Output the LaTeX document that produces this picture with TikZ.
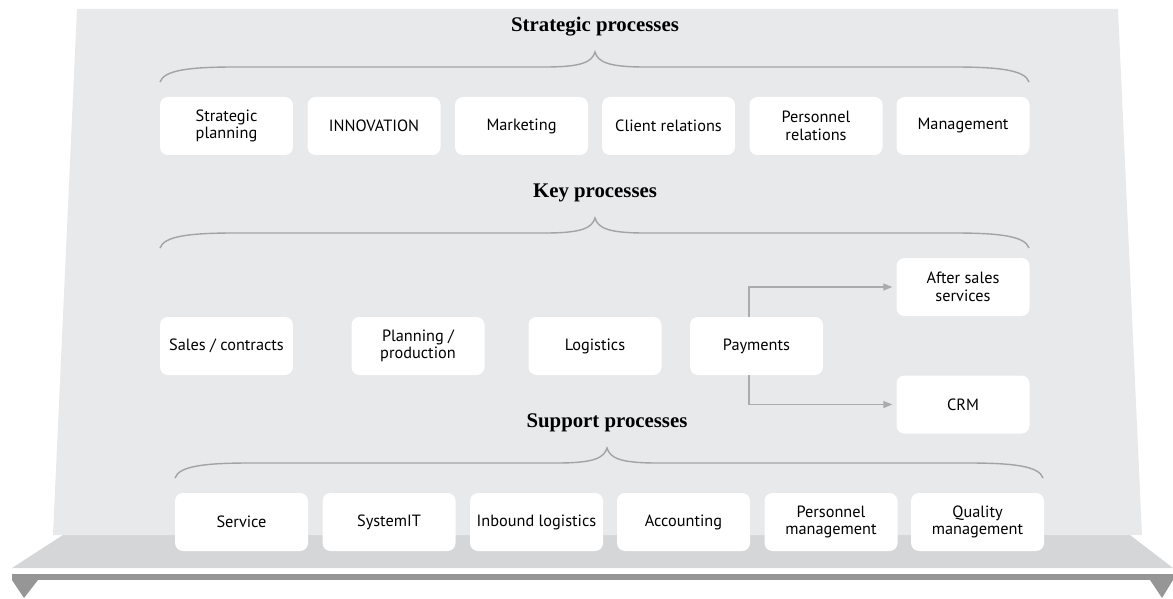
\documentclass[tikz,border=0pt]{standalone}
\usepackage{fontspec}
\setmainfont{Liberation Serif}
\newfontfamily\boxfont{PT Sans}
\usetikzlibrary{arrows.meta}
\definecolor{panel}{HTML}{E8E9EB}
\definecolor{platform}{HTML}{D5D6D8}
\definecolor{barcol}{HTML}{969696}
\definecolor{bracecol}{HTML}{A3A3A3}
\definecolor{arrowcol}{HTML}{ABABAB}
\tikzset{
  pbox/.style={fill=white, rounded corners=8pt, minimum width=133pt, minimum height=58pt,
    inner sep=0pt, align=center, font=\boxfont\fontsize{16.3}{17.5}\selectfont, text=black},
  ptitle/.style={font=\bfseries\fontsize{20.8}{24}\selectfont, text=black},
  bracepath/.style={draw=bracecol, line width=1.4pt},
  flowarrow/.style={draw=arrowcol, line width=1.4pt, -{Triangle[length=9pt,width=7pt]}},
}
\begin{document}
\begin{tikzpicture}[x=1pt,y=-1pt]
\useasboundingbox (0,0) rectangle (1173,599);
% platform
\fill[platform] (63,535) -- (1130,535) -- (1173,568) -- (12,568) -- cycle;
% bottom bar with end triangles
\fill[barcol] (12,574) -- (1173,574) -- (1173,580) -- (12,580) -- cycle;
\fill[barcol] (12,580) -- (38,580) -- (24,598) -- cycle;
\fill[barcol] (1150,580) -- (1173,580) -- (1162,598) -- cycle;
% panel
\fill[panel] (77,9) -- (1118,9) -- (1142,535) -- (53,535) -- cycle;

% titles
\node[ptitle] (tstrat) at (595,27) {Strategic processes};
\node[ptitle] (tkey) at (595,193) {Key processes};
\node[ptitle] (tsupp) at (607,423) {Support processes};

% braces
\draw[bracepath] (160,82) .. controls (164,70) and (190,67) .. (235,67) -- (545,67)
  .. controls (582,67) and (592,62) .. (595,52)
  .. controls (598,62) and (608,67) .. (645,67) -- (954,67)
  .. controls (999,67) and (1025,70) .. (1029,82);
\draw[bracepath] (160,248) .. controls (164,236) and (190,233) .. (235,233) -- (545,233)
  .. controls (582,233) and (592,228) .. (595,218)
  .. controls (598,228) and (608,233) .. (645,233) -- (954,233)
  .. controls (999,233) and (1025,236) .. (1029,248);
\draw[bracepath] (175,478) .. controls (179,466) and (205,463) .. (250,463) -- (557,463)
  .. controls (594,463) and (604,458) .. (607,448)
  .. controls (610,458) and (620,463) .. (657,463) -- (968,463)
  .. controls (1013,463) and (1039,466) .. (1043,478);

% strategic row
\node[pbox] (s1) at (226.5,126) {Strategic\\planning};
\node[pbox] (s2) at (374,126) {INNOVATION};
\node[pbox] (s3) at (521.5,126) {Marketing};
\node[pbox] (s4) at (668.5,126) {Client relations};
\node[pbox] (s5) at (816,126) {Personnel\\relations};
\node[pbox] (s6) at (963,126) {Management};

% key row
\node[pbox] (k1) at (226.5,346) {Sales / contracts};
\node[pbox] (k2) at (418,346) {Planning /\\production};
\node[pbox] (k3) at (595,346) {Logistics};
\node[pbox] (k4) at (756.5,346) {Payments};
\node[pbox] (k5) at (963,287) {After sales\\services};
\node[pbox] (k6) at (963,404.5) {CRM};

\coordinate (bendup) at (749,287);
\coordinate (benddown) at (749,404.5);
\draw[flowarrow] (k4.north -| bendup) -- (bendup) -- ([xshift=-4pt]k5.west);
\draw[flowarrow] (k4.south -| benddown) -- (benddown) -- ([xshift=-4pt]k6.west);

% support row
\node[pbox] (u1) at (241.5,522) {Service};
\node[pbox] (u2) at (389,522) {SystemIT};
\node[pbox] (u3) at (536.5,522) {Inbound logistics};
\node[pbox] (u4) at (683.5,522) {Accounting};
\node[pbox] (u5) at (831,522) {Personnel\\management};
\node[pbox] (u6) at (977.5,522) {Quality\\management};
\end{tikzpicture}
\end{document}
